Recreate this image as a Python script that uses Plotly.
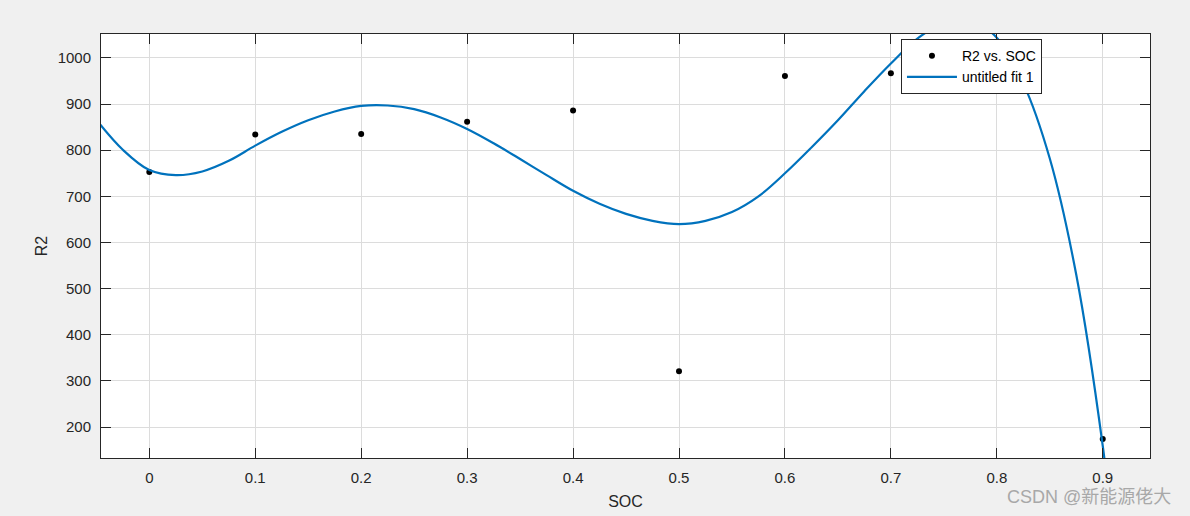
import plotly.graph_objects as go

# Data points
soc = [0, 0.1, 0.2, 0.3, 0.4, 0.5, 0.6, 0.7, 0.8, 0.9]
r2 = [753, 834, 835, 862, 886, 321, 961, 967, 995, 174]

# Fitted curve samples
fit_x = [-0.05, -0.025, 0.0, 0.025, 0.05, 0.075, 0.1, 0.125, 0.15, 0.175, 0.2,
         0.225, 0.25, 0.275, 0.3, 0.325, 0.35, 0.375, 0.4, 0.425, 0.45, 0.475,
         0.5, 0.525, 0.55, 0.575, 0.6, 0.625, 0.65, 0.675, 0.7, 0.725, 0.75,
         0.775, 0.8, 0.825, 0.85, 0.875, 0.9, 0.91]
fit_y = [866, 801, 757, 746, 754, 777, 810, 840, 865, 884, 896,
         897, 889, 871, 846, 815, 781, 746, 712, 684, 662, 647,
         640, 647, 666, 700, 750, 806, 865, 928, 988, 1042, 1076,
         1082, 1044, 945, 782, 530, 159, -40]

x_ticks = [0, 0.1, 0.2, 0.3, 0.4, 0.5, 0.6, 0.7, 0.8, 0.9]
x_ticklabels = ["0", "0.1", "0.2", "0.3", "0.4", "0.5", "0.6", "0.7", "0.8", "0.9"]
y_ticks = [200, 300, 400, 500, 600, 700, 800, 900, 1000]
y_ticklabels = ["200", "300", "400", "500", "600", "700", "800", "900", "1000"]

FONT = "Liberation Sans, Arial, Helvetica, sans-serif"
AX = "#262626"

fig = go.Figure()
fig.add_trace(go.Scatter(
    x=soc, y=r2, mode="markers", name="R2 vs. SOC",
    marker=dict(color="black", size=6),
))
fig.add_trace(go.Scatter(
    x=fit_x, y=fit_y, mode="lines", name="untitled fit 1",
    line=dict(color="#0072BD", width=2.2, shape="spline", smoothing=1.0),
))

axis_common = dict(
    showline=True, linecolor=AX, linewidth=1, mirror="ticks",
    ticks="inside", ticklen=10, tickcolor=AX, tickwidth=1,
    showgrid=True, gridcolor="#dcdcdc", gridwidth=1,
    zeroline=False, automargin=False,
    tickfont=dict(family=FONT, size=15, color=AX),
)

fig.update_xaxes(
    range=[-0.0456, 0.9446], tickvals=x_ticks, ticktext=x_ticklabels,
    title=dict(text="SOC", font=dict(family=FONT, size=16, color=AX), standoff=10),
    ticklabelstandoff=6,
    **axis_common,
)
fig.update_yaxes(
    range=[132.8, 1052], tickvals=y_ticks, ticktext=y_ticklabels,
    title=dict(text="R2", font=dict(family=FONT, size=16, color=AX), standoff=6),
    ticklabelstandoff=6,
    **axis_common,
)

fig.update_layout(
    width=1190, height=516,
    margin=dict(l=101, r=40, t=34, b=58, autoexpand=False),
    paper_bgcolor="#f0f0f0", plot_bgcolor="white",
    showlegend=True,
    legend=dict(
        x=0.7626, y=0.988, xanchor="left", yanchor="top",
        bgcolor="white", bordercolor=AX, borderwidth=1,
        font=dict(family=FONT, size=14, color="black"),
        itemwidth=50, tracegroupgap=0,
    ),
    annotations=[dict(
        text="CSDN @新能源佬大", xref="paper", yref="paper",
        x=1.0216, y=-0.092, xanchor="right", yanchor="middle",
        showarrow=False,
        font=dict(family="Liberation Sans, Noto Sans CJK SC, sans-serif", size=18, color="#a8a8a8"),
    )],
)

fig.write_html(
    "out.html",
    config={"displayModeBar": False},
    post_script="document.body.style.margin='0';document.body.style.background='#f0f0f0';",
)
